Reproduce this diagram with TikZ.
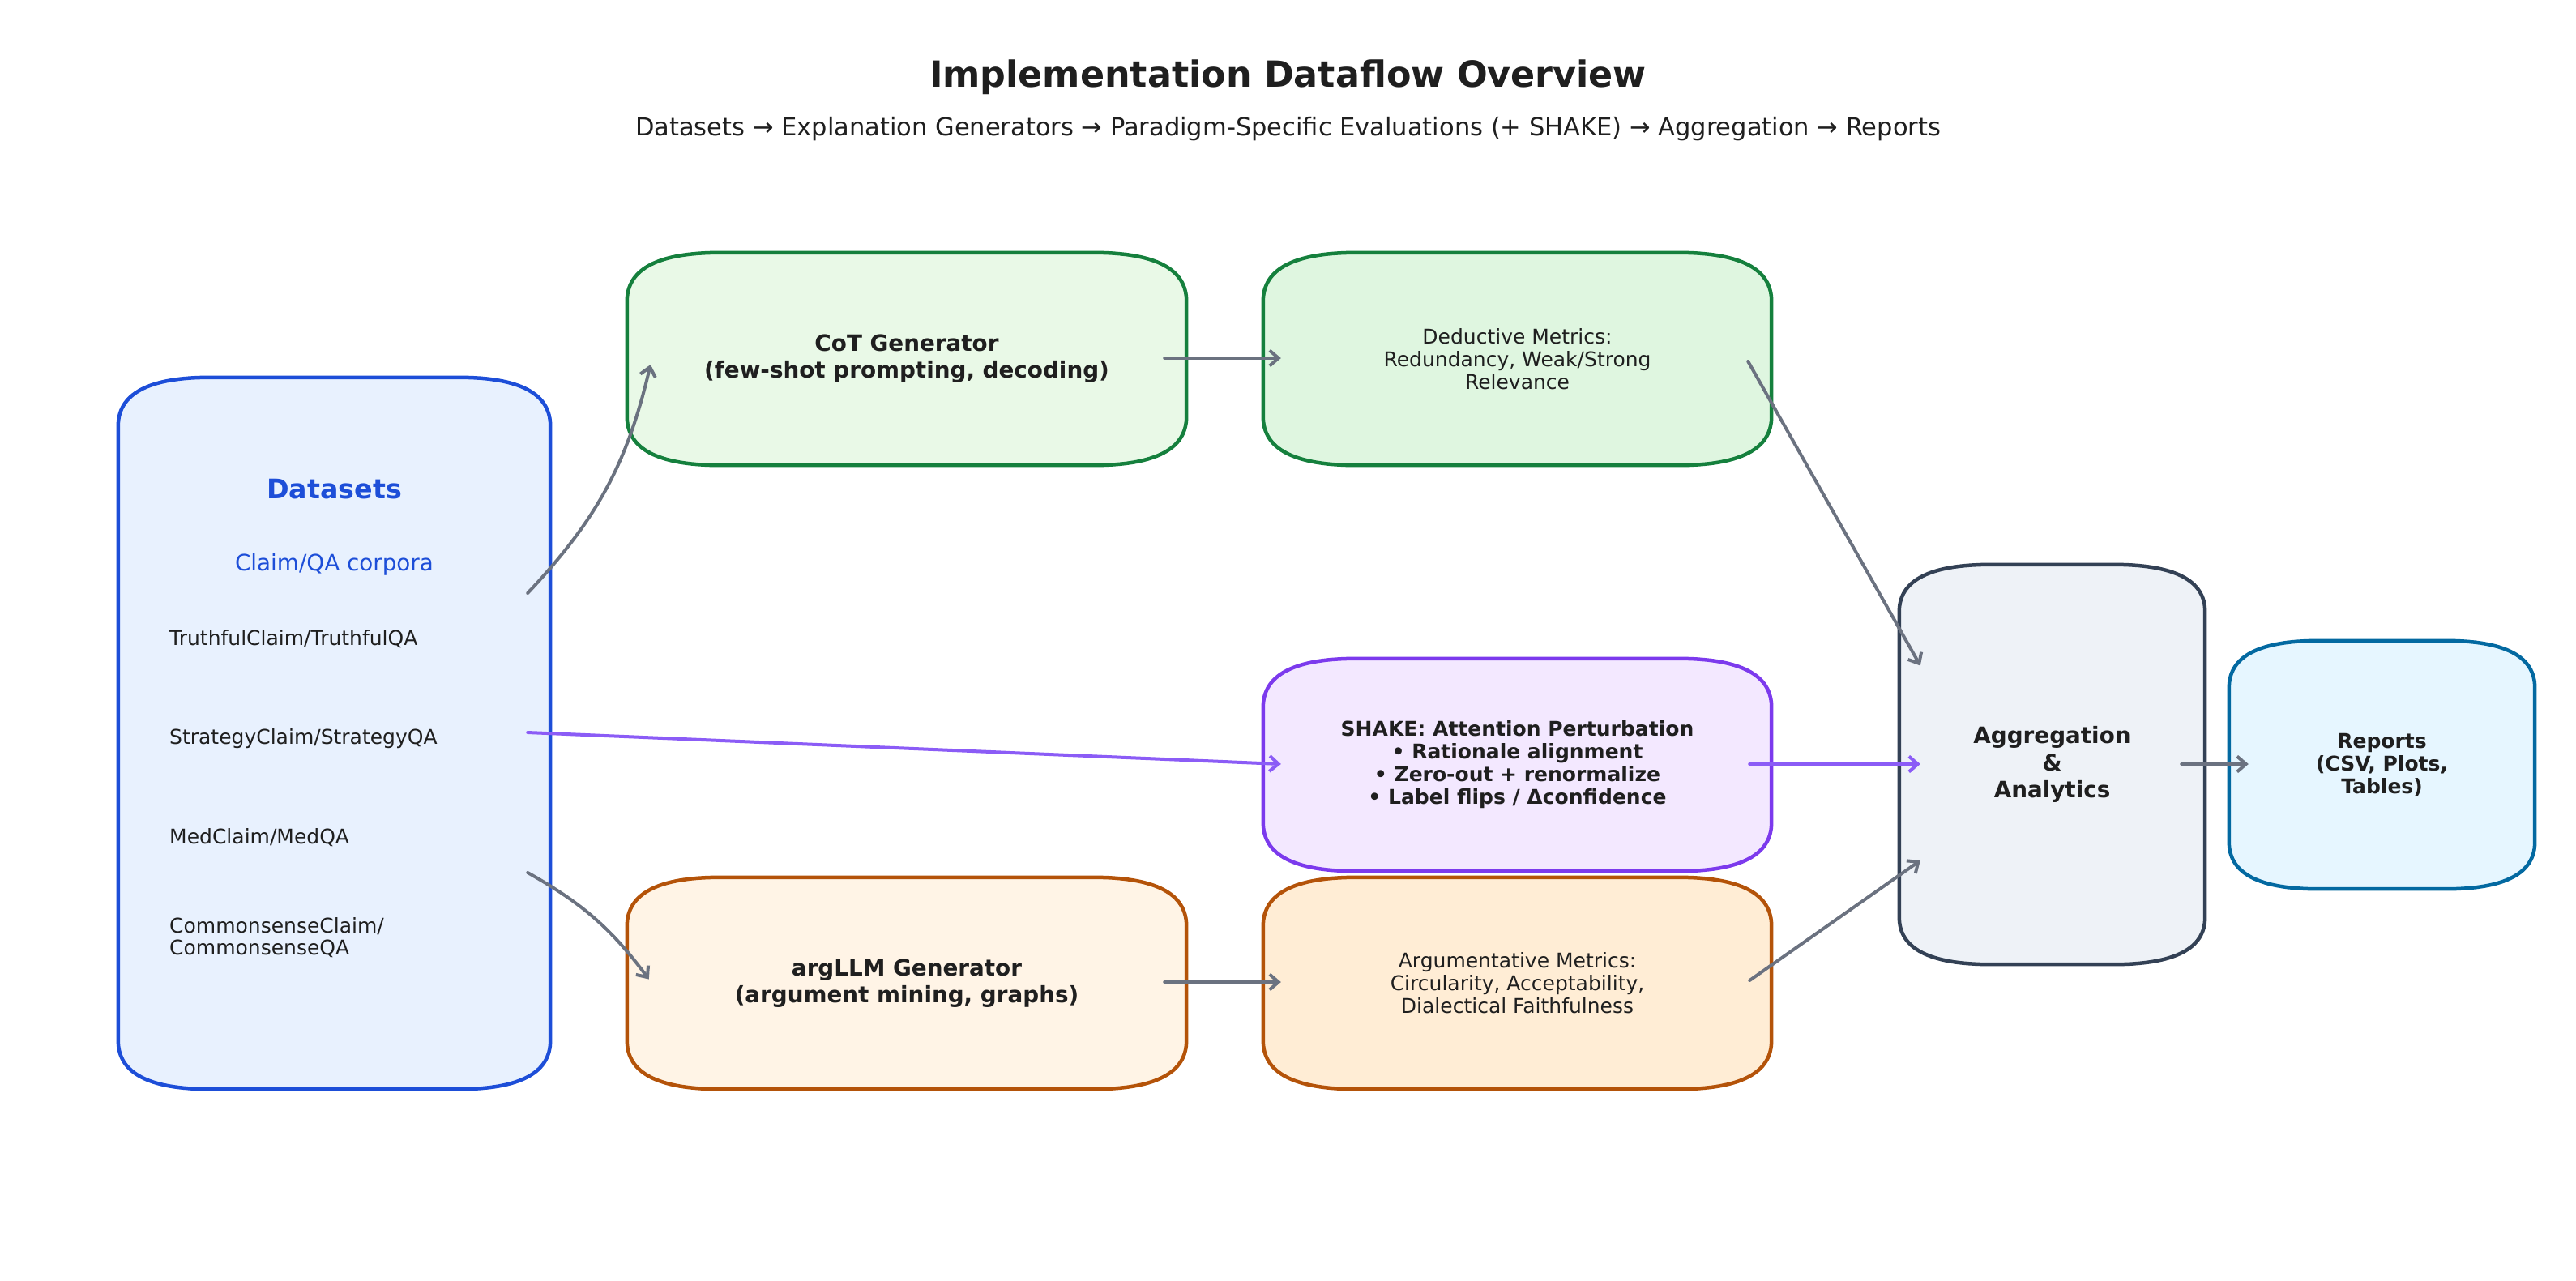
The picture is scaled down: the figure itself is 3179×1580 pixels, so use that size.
\documentclass[tikz,border=0pt]{standalone}
\usepackage{fontspec}
\setmainfont{DejaVu Sans}
\usetikzlibrary{arrows.meta,calc}
\pgfdeclarelayer{background}
\pgfsetlayers{background,main}
\definecolor{txt}{HTML}{1F1F1F}
\definecolor{dsfill}{HTML}{E8F1FE}
\definecolor{dsdraw}{HTML}{1D4ED8}
\definecolor{cotfill}{HTML}{E9F9E7}
\definecolor{dedfill}{HTML}{DFF6E0}
\definecolor{grdraw}{HTML}{15803D}
\definecolor{shfill}{HTML}{F3E8FF}
\definecolor{shdraw}{HTML}{7C3AED}
\definecolor{argfill}{HTML}{FFF4E6}
\definecolor{amfill}{HTML}{FFEDD5}
\definecolor{ordraw}{HTML}{B45309}
\definecolor{aggfill}{HTML}{EEF2F7}
\definecolor{aggdraw}{HTML}{334155}
\definecolor{repfill}{HTML}{E6F6FF}
\definecolor{repdraw}{HTML}{0369A1}
\definecolor{arrgrey}{HTML}{6B7280}
\definecolor{arrpurple}{HTML}{8B5CF6}
% rounded box (quadratic corners, rx x ry) behind a named node
% #1 node, #2 fill, #3 draw, #4 rx, #5 ry
\newcommand\myroundbox[5]{%
  \begin{pgfonlayer}{background}
  \path[fill=#2, draw=#3, line width=4.5pt, line join=round]
    let \p1=(#1.north west), \p2=(#1.south east) in
    (\x1+#4pt,\y1) -- (\x2-#4pt,\y1)
    .. controls (\x2-#4pt/3,\y1) and (\x2,\y1-#5pt/3) .. (\x2,\y1-#5pt)
    -- (\x2,\y2+#5pt)
    .. controls (\x2,\y2+#5pt/3) and (\x2-#4pt/3,\y2) .. (\x2-#4pt,\y2)
    -- (\x1+#4pt,\y2)
    .. controls (\x1+#4pt/3,\y2) and (\x1,\y2+#5pt/3) .. (\x1,\y2+#5pt)
    -- (\x1,\y1-#5pt)
    .. controls (\x1,\y1-#5pt/3) and (\x1+#4pt/3,\y1) .. cycle;
  \end{pgfonlayer}}
\begin{document}
\begin{tikzpicture}[x=1pt,y=-1pt,
  box/.style={inner sep=0pt, align=center, text=txt},
  big/.style={font=\fontsize{27.8}{33.3}\selectfont\bfseries},
  mid/.style={font=\fontsize{25}{28}\selectfont},
  midb/.style={font=\fontsize{25}{28}\selectfont\bfseries},
  arr/.style={line width=4pt, line cap=round, draw=arrgrey, -{Straight Barb[length=11pt,width=19pt]}},
  parr/.style={arr, draw=arrpurple}
]
\begin{pgfonlayer}{background}
\path[use as bounding box, fill=white] (0,0) rectangle (3179,1580);
\end{pgfonlayer}

\node[text=txt, font=\fontsize{44.4}{53}\selectfont\bfseries] (title) at (1589.5,95) {Implementation Dataflow Overview};
\node[text=txt, font=\fontsize{30.5}{37}\selectfont] (subtitle) at (1589.5,159) {Datasets → Explanation Generators → Paradigm-Specific Evaluations (+ SHAKE) → Aggregation → Reports};

\node[box, minimum width=533pt, minimum height=878pt] (ds) at (412.5,905) {};
\node[text=dsdraw, font=\fontsize{33.3}{40}\selectfont\bfseries] (dstitle) at (412.5,604) {Datasets};
\node[text=dsdraw, font=\fontsize{27.8}{33}\selectfont] (dssub) at (412.5,697) {Claim/QA corpora};
\node[text=txt, mid, anchor=west, inner sep=0pt] (d1) at (209,789) {TruthfulClaim/TruthfulQA};
\node[text=txt, mid, anchor=west, inner sep=0pt] (d2) at (209,912) {StrategyClaim/StrategyQA};
\node[text=txt, mid, anchor=west, inner sep=0pt] (d3) at (209,1034) {MedClaim/MedQA};
\node[text=txt, font=\fontsize{25}{27}\selectfont, anchor=west, inner sep=0pt, align=left] (d4) at (209,1157) {CommonsenseClaim/\\CommonsenseQA};

\node[box, big, minimum width=690pt, minimum height=262pt] (cot) at (1119,443) {CoT Generator\\(few-shot prompting, decoding)};
\node[box, mid, minimum width=627pt, minimum height=262pt] (ded) at (1872.5,443) {Deductive Metrics:\\Redundancy, Weak/Strong\\Relevance};
\node[box, midb, minimum width=627pt, minimum height=262pt] (shake) at (1872.5,944) {SHAKE: Attention Perturbation\\• Rationale alignment\\• Zero-out + renormalize\\• Label flips / Δconfidence};
\node[box, big, minimum width=690pt, minimum height=261pt] (arg) at (1119,1213.5) {argLLM Generator\\(argument mining, graphs)};
\node[box, mid, minimum width=627pt, minimum height=261pt] (am) at (1872.5,1213.5) {Argumentative Metrics:\\Circularity, Acceptability,\\Dialectical Faithfulness};
\node[box, big, minimum width=377pt, minimum height=493pt] (agg) at (2532.5,943.5) {Aggregation\\\&\\Analytics};
\node[box, midb, minimum width=377pt, minimum height=306pt] (rep) at (2939.5,944) {Reports\\(CSV, Plots,\\Tables)};

\myroundbox{ds}{dsfill}{dsdraw}{113}{60}
\myroundbox{cot}{cotfill}{grdraw}{115}{60}
\myroundbox{ded}{dedfill}{grdraw}{115}{60}
\myroundbox{shake}{shfill}{shdraw}{115}{60}
\myroundbox{arg}{argfill}{ordraw}{115}{60}
\myroundbox{am}{amfill}{ordraw}{115}{60}
\myroundbox{agg}{aggfill}{aggdraw}{113}{58}
\myroundbox{rep}{repfill}{repdraw}{110}{58}

\draw[arr] ($(ds.east)+(-28,-173)$) to[bend right=15] ($(cot.west)+(29,7)$);
\draw[parr] ($(ds.east)+(-28,-1)$) -- ($(shake.west)+(22,-1)$);
\draw[arr] ($(ds.east)+(-28,172)$) to[bend left=12] ($(arg.west)+(27,-5)$);
\draw[arr] ($(cot.east)+(-27,-1)$) -- ($(ded.west)+(22,-1)$);
\draw[arr] ($(arg.east)+(-27,-1.5)$) -- ($(am.west)+(22,-1.5)$);
\draw[arr] ($(ded.east)+(-29,3)$) -- ($(agg.west)+(26,-122)$);
\draw[parr] ($(shake.east)+(-27,-1)$) -- ($(agg.west)+(26,-0.5)$);
\draw[arr] ($(am.east)+(-27,-3.5)$) -- ($(agg.west)+(26,118.5)$);
\draw[arr] ($(agg.east)+(-29,-0.5)$) -- ($(rep.west)+(24,-1)$);
\end{tikzpicture}
\end{document}
